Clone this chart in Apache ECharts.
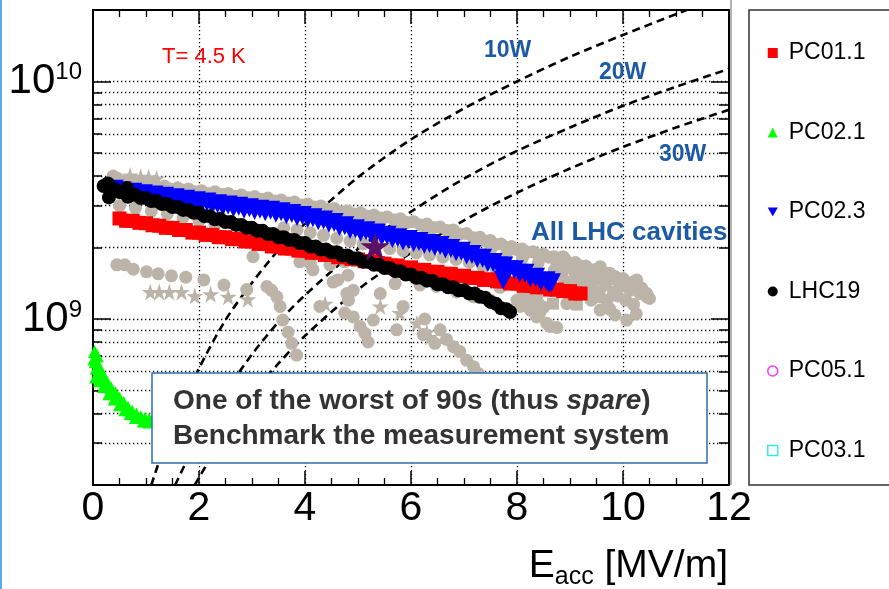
<!DOCTYPE html>
<html>
<head>
<meta charset="utf-8">
<script src="https://cdn.jsdelivr.net/npm/echarts@6/dist/echarts.min.js"></script>
<style>
  html, body { margin: 0; padding: 0; background: #fff; }
  #chart { width: 889px; height: 589px; }
</style>
</head>
<body>
<div id="chart"></div>
<script>
// Q0 versus accelerating gradient, LHC 400 MHz cavities at 4.5 K

const seriesNames = ['PC01.1', 'PC02.1', 'PC02.3', 'LHC19', 'PC05.1', 'PC03.1'];

// [Eacc (MV/m), Q0] -- each cavity was measured in two interleaved runs
const pc011RunA = [[0.5,2.65e9],[0.75,2.59e9],[1.0,2.53e9],[1.25,2.47e9],[1.5,2.42e9],[1.75,2.37e9],[2.0,2.31e9],[2.25,2.26e9],[2.5,2.21e9],[2.75,2.17e9],[3.0,2.12e9],[3.25,2.07e9],[3.5,2.02e9],[3.75,1.98e9],[4.0,1.94e9],[4.25,1.90e9],[4.5,1.86e9],[4.75,1.82e9],[5.0,1.78e9],[5.25,1.75e9],[5.5,1.71e9],[5.75,1.68e9],[6.0,1.65e9],[6.25,1.61e9],[6.5,1.58e9],[6.75,1.55e9],[7.0,1.52e9],[7.25,1.49e9],[7.5,1.47e9],[7.75,1.44e9],[8.0,1.41e9],[8.25,1.38e9],[8.5,1.36e9],[8.75,1.33e9],[9.0,1.31e9],[9.2,1.28e9]];
const pc011RunB = [[0.625,2.59e9],[0.875,2.54e9],[1.125,2.48e9],[1.375,2.42e9],[1.625,2.37e9],[1.875,2.31e9],[2.125,2.26e9],[2.375,2.21e9],[2.625,2.17e9],[2.875,2.12e9],[3.125,2.07e9],[3.375,2.02e9],[3.625,1.98e9],[3.875,1.94e9],[4.125,1.90e9],[4.375,1.86e9],[4.625,1.82e9],[4.875,1.79e9],[5.125,1.75e9],[5.375,1.72e9],[5.625,1.68e9],[5.875,1.64e9],[6.125,1.61e9],[6.375,1.58e9],[6.625,1.55e9],[6.875,1.52e9],[7.125,1.49e9],[7.375,1.46e9],[7.625,1.44e9],[7.875,1.41e9],[8.125,1.38e9],[8.375,1.36e9],[8.625,1.33e9],[8.875,1.31e9],[9.1,1.28e9]];

const pc021 = [[0.03,7.3e8],[0.02,6.8e8],[0.04,6.6e8],[0.08,7.0e8],[0.06,6.2e8],[0.05,5.7e8],[0.1,6.4e8],[0.15,6.05e8],[0.12,5.5e8],[0.2,5.75e8],[0.2,5.2e8],[0.27,5.4e8],[0.3,4.85e8],[0.34,5.15e8],[0.4,4.6e8],[0.42,4.9e8],[0.5,4.65e8],[0.5,4.35e8],[0.58,4.45e8],[0.6,4.15e8],[0.66,4.25e8],[0.7,4.0e8],[0.74,4.1e8],[0.8,3.85e8],[0.82,3.98e8],[0.9,3.88e8],[0.95,3.72e8],[0.98,3.82e8],[1.05,3.68e8],[1.06,3.78e8],[1.12,3.75e8]];

const pc023RunA = [[0.4,3.52e9],[0.55,3.46e9],[0.75,3.42e9],[0.95,3.37e9],[1.15,3.33e9],[1.35,3.29e9],[1.55,3.24e9],[1.75,3.19e9],[1.95,3.15e9],[2.15,3.11e9],[2.35,3.06e9],[2.55,3.02e9],[2.75,2.98e9],[2.95,2.94e9],[3.15,2.90e9],[3.35,2.87e9],[3.55,2.83e9],[3.75,2.78e9],[3.95,2.73e9],[4.15,2.67e9],[4.35,2.61e9],[4.55,2.55e9],[4.75,2.47e9],[4.95,2.40e9],[5.15,2.35e9],[5.35,2.30e9],[5.55,2.25e9],[5.75,2.20e9],[5.95,2.16e9],[6.15,2.12e9],[6.35,2.08e9],[6.55,2.04e9],[6.75,1.98e9],[6.95,1.93e9],[7.15,1.87e9],[7.35,1.80e9],[7.55,1.73e9],[7.74,1.46e9],[7.75,1.67e9],[7.95,1.61e9],[8.15,1.56e9],[8.35,1.50e9],[8.55,1.45e9],[8.65,1.42e9]];
const pc023RunB = [[0.65,3.37e9],[0.85,3.32e9],[1.05,3.28e9],[1.25,3.24e9],[1.45,3.20e9],[1.65,3.15e9],[1.85,3.10e9],[2.05,3.07e9],[2.25,3.02e9],[2.45,2.98e9],[2.65,2.94e9],[2.85,2.90e9],[3.05,2.86e9],[3.25,2.83e9],[3.45,2.79e9],[3.65,2.75e9],[3.85,2.70e9],[4.05,2.65e9],[4.25,2.59e9],[4.45,2.53e9],[4.65,2.45e9],[4.85,2.38e9],[5.05,2.32e9],[5.25,2.28e9],[5.45,2.23e9],[5.65,2.18e9],[5.85,2.13e9],[6.05,2.10e9],[6.25,2.06e9],[6.45,2.02e9],[6.65,1.97e9],[6.85,1.92e9],[7.05,1.86e9],[7.25,1.80e9],[7.45,1.73e9],[7.65,1.67e9],[7.85,1.61e9],[8.05,1.56e9],[8.25,1.49e9],[8.45,1.44e9],[8.6,1.41e9]];

const lhc19RunA = [[0.2,3.63e9],[0.28,3.72e9],[0.3,3.25e9],[0.4,3.53e9],[0.6,3.42e9],[0.64,3.56e9],[0.66,3.27e9],[0.8,3.33e9],[1.0,3.23e9],[1.2,3.14e9],[1.4,3.05e9],[1.6,2.96e9],[1.8,2.88e9],[2.0,2.80e9],[2.2,2.71e9],[2.4,2.64e9],[2.6,2.56e9],[2.8,2.49e9],[3.0,2.42e9],[3.2,2.35e9],[3.4,2.28e9],[3.6,2.21e9],[3.8,2.15e9],[4.0,2.09e9],[4.2,2.02e9],[4.4,1.96e9],[4.6,1.91e9],[4.8,1.85e9],[5.0,1.80e9],[5.2,1.74e9],[5.4,1.69e9],[5.6,1.64e9],[5.8,1.59e9],[6.0,1.54e9],[6.2,1.49e9],[6.4,1.45e9],[6.6,1.40e9],[6.8,1.36e9],[7.0,1.32e9],[7.2,1.28e9],[7.4,1.23e9],[7.6,1.16e9],[7.8,1.10e9],[7.87,1.07e9]];
const lhc19RunB = [[0.5,3.42e9],[0.7,3.32e9],[0.9,3.23e9],[1.1,3.14e9],[1.3,3.05e9],[1.5,2.96e9],[1.7,2.88e9],[1.9,2.80e9],[2.1,2.71e9],[2.3,2.63e9],[2.5,2.56e9],[2.7,2.49e9],[2.9,2.42e9],[3.1,2.35e9],[3.3,2.28e9],[3.5,2.21e9],[3.7,2.15e9],[3.9,2.09e9],[4.1,2.02e9],[4.3,1.96e9],[4.5,1.91e9],[4.7,1.85e9],[4.9,1.80e9],[5.1,1.74e9],[5.3,1.69e9],[5.5,1.64e9],[5.7,1.59e9],[5.9,1.54e9],[6.1,1.49e9],[6.3,1.45e9],[6.5,1.40e9],[6.7,1.36e9],[6.9,1.32e9],[7.1,1.28e9],[7.3,1.24e9],[7.5,1.18e9],[7.7,1.11e9]];

const pc011 = pc011RunA.concat(pc011RunB);
const pc023 = pc023RunA.concat(pc023RunB);
const lhc19 = lhc19RunA.concat(lhc19RunB);
const pc051 = [];
const pc031 = [];

// the cavity singled out as spare / benchmark
const benchmarkPoint = [[5.32, 2.02e9]];

// all other LHC cavities (grey)
const allLhcCircles = [
  [0.38,4.0e9],[0.45,3.92e9],[0.7,3.82e9],[0.9,3.77e9],[1.1,3.72e9],[1.35,3.63e9],[1.6,3.57e9],[1.8,3.53e9],[2.05,3.47e9],[2.3,3.43e9],[2.55,3.38e9],[2.8,3.33e9],[3.05,3.28e9],[3.3,3.23e9],[3.55,3.17e9],[3.8,3.11e9],[4.05,3.05e9],[4.3,2.99e9],[4.55,2.92e9],[4.8,2.85e9],[5.05,2.80e9],[5.3,2.74e9],[5.55,2.69e9],[5.8,2.64e9],[6.05,2.57e9],[6.3,2.51e9],[6.55,2.44e9],[6.8,2.37e9],[7.05,2.29e9],[7.3,2.21e9],[7.5,2.14e9],[7.7,2.07e9],[7.9,2.02e9],[8.1,1.97e9],[8.3,1.92e9],[8.5,1.88e9],[8.7,1.83e9],[8.9,1.79e9],[9.1,1.73e9],[9.3,1.67e9],[9.5,1.62e9],[9.7,1.56e9],[9.85,1.51e9],[10.0,1.47e9],[10.15,1.42e9],[10.3,1.36e9],[10.45,1.28e9],[10.5,1.22e9],
  [0.55,3.79e9],[0.8,3.72e9],[1.0,3.67e9],[1.23,3.60e9],[1.48,3.53e9],[1.7,3.48e9],[1.93,3.43e9],[2.18,3.38e9],[2.43,3.34e9],[2.68,3.29e9],[2.93,3.24e9],[3.18,3.19e9],[3.43,3.14e9],[3.68,3.08e9],[3.93,3.02e9],[4.18,2.96e9],[4.43,2.90e9],[4.68,2.83e9],[4.93,2.77e9],[5.18,2.71e9],[5.43,2.66e9],[5.68,2.61e9],[5.93,2.55e9],[6.18,2.49e9],[6.43,2.43e9],[6.68,2.36e9],[6.93,2.28e9],[7.18,2.20e9],[7.4,2.13e9],[7.6,2.06e9],[7.8,2.0e9],[8.0,1.96e9],[8.2,1.91e9],[8.4,1.86e9],[8.6,1.82e9],[8.8,1.77e9],[9.0,1.72e9],[9.2,1.67e9],[9.4,1.61e9],[9.6,1.56e9],[9.78,1.50e9],[9.93,1.46e9],[10.08,1.42e9],[10.22,1.36e9],[10.38,1.29e9],
  [5.3,2.5e9],[5.8,2.43e9],[6.3,2.33e9],[6.8,2.2e9],[7.2,2.07e9],[7.5,1.95e9],[7.8,1.88e9],[8.1,1.80e9],[8.4,1.72e9],
  [0.5,3.0e9],[0.8,2.93e9],[1.1,2.85e9],[1.4,2.77e9],[1.7,2.68e9],[2.0,2.6e9],[2.3,2.5e9],
  [3.6,2.42e9],[3.85,2.37e9],[4.1,2.31e9],[4.35,2.25e9],[4.6,2.19e9],[4.85,2.13e9],[5.1,2.07e9],[5.35,2.03e9],[5.6,1.98e9],[5.85,1.94e9],[6.1,1.9e9],[6.35,1.86e9],[6.6,1.82e9],[6.85,1.78e9],[7.1,1.73e9],[7.35,1.68e9],[7.6,1.63e9],
  [0.45,1.69e9],[0.6,1.69e9],[0.76,1.62e9],[1.01,1.58e9],[1.23,1.55e9],[1.48,1.52e9],[1.75,1.50e9],[2.09,1.46e9],[2.47,1.39e9],[2.9,1.33e9],
  [3.02,1.83e9],[3.28,1.37e9],[3.37,1.32e9],[3.47,1.24e9],[3.53,1.13e9],[3.58,0.99e9],[3.68,8.8e8],[3.75,7.9e8],[3.84,7.05e8],
  [3.9,1.74e9],[4.1,1.72e9],[4.15,1.61e9],[4.47,1.69e9],[4.75,1.74e9],[4.62,1.46e9],[4.81,1.53e9],[4.53,1.43e9],[4.79,1.28e9],
  [4.28,1.13e9],[4.75,1.06e9],[4.82,1.2e9],[4.91,1.32e9],[4.91,1.02e9],[5.04,9.3e8],[5.13,8.7e8],[5.19,8.0e8],[5.29,9.9e8],[5.42,1.28e9],
  [5.7,1.41e9],[5.73,9.0e8],[5.85,1.13e9],[6.23,8.6e8],[6.26,1.0e9],
  [6.45,7.9e8],[6.55,9.0e8],[6.67,8.2e8],[6.8,7.65e8],[6.92,7.3e8],[7.05,6.7e8],[7.18,6.3e8],[7.27,5.9e8],
  [6.17,1.39e9],[6.48,1.37e9],[6.86,1.30e9],[7.18,1.24e9],[7.5,1.2e9],[7.68,1.36e9],
  [8.75,1.72e9],[8.87,1.83e9],[9.13,1.66e9],[9.32,1.61e9],[9.57,1.66e9],[9.75,1.56e9],[9.88,1.46e9],[10.0,1.48e9],[10.19,1.43e9],[10.13,1.32e9],[10.32,1.28e9],[9.82,1.30e9],[9.85,1.04e9],[10.07,9.9e8],[9.5,1.24e9],[9.38,1.37e9],
  [8.12,1.28e9],[8.37,1.24e9],[8.94,1.16e9],[8.25,1.09e9],[8.37,1.02e9],[8.56,9.6e8],[8.62,9.3e8],[8.06,1.13e9],[8.0,1.2e9],[7.36,1.66e9],[7.68,1.64e9],
  [9.57,1.09e9],[10.45,1.24e9],[10.26,1.46e9],[8.43,1.06e9],[8.75,9.2e8],[9.0,1.39e9],[9.19,1.46e9],[9.47,1.46e9],[9.66,1.39e9],[8.81,1.53e9],[8.62,1.32e9],[9.09,1.26e9],[9.3,1.5e9],[9.6,1.5e9],[9.95,1.38e9],[9.7,1.2e9],[9.4,1.2e9],[8.9,1.45e9],[8.7,1.6e9],
  [8.9,1.62e9],[9.1,1.55e9],[9.25,1.4e9],[9.45,1.55e9],[9.55,1.3e9],[9.7,1.45e9],[9.9,1.25e9],[10.05,1.2e9],[10.2,1.15e9],[10.35,1.35e9],[9.15,1.35e9],[9.35,1.3e9],[8.95,1.32e9],[9.75,1.1e9],[10.25,1.05e9],[8.3,1.16e9],[8.5,1.12e9],[8.2,1.22e9]
];
const allLhcStars = [[0.7,4.02e9],[0.9,3.97e9],[1.05,3.95e9],[1.2,3.9e9],[1.08,1.30e9],[1.25,1.30e9],[1.44,1.30e9],[1.67,1.30e9],[1.92,1.25e9],[2.22,1.27e9],[2.55,1.24e9],[2.92,1.21e9],[4.38,1.16e9],[5.42,1.13e9],[5.79,1.06e9],[6.11,9.6e8],[6.3,8.8e8],[6.36,8.4e8]];
const allLhcCrosses = [[9.62,1.18e9],[9.05,1.22e9]];
const allLhcSquares = [[8.68,1.16e9],[9.13,1.15e9],[8.4,1.14e9]];

// constant dissipated power lines
const curve10W = [[1.1,2.0e8],[1.5,3.6e8],[2.0,6.2e8],[2.5,9.9e8],[3.0,1.42e9],[3.5,1.95e9],[4.0,2.52e9],[5.0,3.95e9],[6.0,5.7e9],[7.0,7.7e9],[8.0,1.0e10],[9.0,1.27e10],[10.0,1.57e10],[11.2,2.0e10]];
const curve20W = [[1.55,2.0e8],[2.0,3.2e8],[2.5,4.9e8],[3.0,7.1e8],[3.5,9.7e8],[4.0,1.26e9],[5.0,1.97e9],[6.0,2.83e9],[7.0,3.9e9],[8.0,5.1e9],[9.0,6.4e9],[10.0,7.9e9],[11.0,9.5e9],[12.0,1.13e10]];
const curve30W = [[1.92,2.0e8],[2.5,3.3e8],[3.0,4.8e8],[3.5,6.5e8],[4.0,8.5e8],[5.0,1.33e9],[6.0,1.9e9],[7.0,2.6e9],[8.0,3.4e9],[9.0,4.3e9],[10.0,5.3e9],[11.0,6.4e9],[12.0,7.6e9]];

// axis ticks
const xTickLabels = [0, 2, 4, 6, 8, 10, 12];
const qMajorTicks = [1e9, 1e10];
const qMinorTicks = [3e8, 4e8, 5e8, 6e8, 7e8, 8e8, 9e8, 2e9, 3e9, 4e9, 5e9, 6e9, 7e9, 8e9, 9e9];
const qGridLines = qMinorTicks.concat(qMajorTicks);

const FONT = '"Liberation Sans", Arial, Helvetica, sans-serif';
const Q_MIN = 2e8, Q_MAX = 2e10;
const lg = Math.log10;
const GREY = '#bdb4a9';
const STAR = 'path://M50 0L61.23 34.55L97.55 34.55L68.16 55.9L79.39 90.45L50 69.1L20.61 90.45L31.84 55.9L2.45 34.55L38.77 34.55Z';
const CROSS = 'path://M4 0h2v4h4v2h-4v4h-2v-4h-4v-2h4z';
const DOWN_TRI = 'path://M0 0L10 0L5 9Z';

function powerLabel(v) {
  const e = Math.round(v);
  return '{b|10}{s|' + e + '}';
}

function tickAxis(position, values, len, withLabels) {
  return {
    type: 'value', position: position, min: lg(Q_MIN), max: lg(Q_MAX),
    axisLine: { show: false, onZero: false },
    axisTick: { show: true, inside: true, length: len, customValues: values.map(lg),
                lineStyle: { color: '#000', width: 1.5 } },
    axisLabel: withLabels ? {
      show: true, customValues: values.map(lg), margin: 11, formatter: powerLabel,
      rich: {
        b: { fontSize: 42, fontFamily: FONT, color: '#000' },
        s: { fontSize: 24, fontFamily: FONT, color: '#000', verticalAlign: 'top', padding: [0, 0, 14, 0] }
      }
    } : { show: false },
    splitLine: { show: false }
  };
}

function frameYAxis(position) {
  return {
    type: 'log', logBase: 10, position: position, min: Q_MIN, max: Q_MAX,
    axisLine: { show: true, onZero: false, lineStyle: { color: '#000', width: 2 } },
    axisTick: { show: false }, axisLabel: { show: false }, splitLine: { show: false }
  };
}

function xAxisDef(position, labels) {
  return {
    type: 'value', position: position, min: xTickLabels[0], max: xTickLabels[xTickLabels.length - 1], interval: 2,
    axisLine: { show: true, onZero: false, lineStyle: { color: '#000', width: 2 } },
    axisTick: { show: true, inside: true, length: 14, lineStyle: { color: '#000', width: 1.5 } },
    minorTick: { show: true, splitNumber: 4, length: 7, lineStyle: { color: '#000', width: 1.3 } },
    axisLabel: labels ? { show: true, fontSize: 41, fontFamily: FONT, color: '#000', margin: 3 } : { show: false },
    splitLine: labels ? { show: true, showMinLine: false, showMaxLine: false,
                          lineStyle: { color: '#000', width: 1.3, type: [1.3, 2.7] } } : { show: false }
  };
}

function scatter(name, data, symbol, size, color, extra) {
  return Object.assign({
    name: name, type: 'scatter', data: data, symbol: symbol, symbolSize: size,
    itemStyle: { color: color, opacity: 1 }, xAxisIndex: 0, yAxisIndex: 0,
    silent: true, z: 2
  }, extra || {});
}

function powerCurve(name, data) {
  return {
    name: name, type: 'line', data: data, showSymbol: false, symbol: 'none', smooth: 0.3,
    xAxisIndex: 0, yAxisIndex: 0, silent: true, z: 2,
    lineStyle: { color: '#000', width: 2.6, type: [8, 5] }
  };
}

function label(text, x, y, size, color, bold) {
  return {
    type: 'text', z: 50, silent: true,
    style: { text: text, x: x, y: y, fill: color, fontSize: size, fontFamily: FONT,
             fontWeight: bold ? 'bold' : 'normal', align: 'left', verticalAlign: 'middle' }
  };
}

const option = {
  animation: false,
  backgroundColor: '#fff',
  grid: { left: 93, top: 10, width: 636, height: 475, containLabel: false, outerBoundsMode: 'none' },
  xAxis: [xAxisDef('bottom', true), xAxisDef('top', false)],
  yAxis: [
    frameYAxis('left'),
    tickAxis('left', qMajorTicks, 18, true),
    tickAxis('left', qMinorTicks, 9, false),
    frameYAxis('right'),
    tickAxis('right', qMajorTicks, 18, false),
    tickAxis('right', qMinorTicks, 10, false)
  ],
  legend: {
    orient: 'vertical', left: 762, top: 36, itemWidth: 10, itemHeight: 10, itemGap: 55.5,
    selectedMode: false,
    textStyle: { fontSize: 23, fontFamily: FONT, color: '#000', lineHeight: 24, padding: [0, 0, 0, 6] },
    data: [
      { name: seriesNames[0], icon: 'rect' },
      { name: seriesNames[1], icon: 'triangle' },
      { name: seriesNames[2], icon: DOWN_TRI },
      { name: seriesNames[3], icon: 'circle' },
      { name: seriesNames[4], icon: 'circle', itemStyle: { color: 'rgba(0,0,0,0)', borderColor: '#ff00ff', borderWidth: 1.5 } },
      { name: seriesNames[5], icon: 'rect', itemStyle: { color: 'rgba(0,0,0,0)', borderColor: '#00e5ee', borderWidth: 1.5 } }
    ]
  },
  series: [
    Object.assign(scatter('grid', [], 'none', 0, '#000'), {
      markLine: {
        silent: true, symbol: 'none', z: 1,
        label: { show: false },
        lineStyle: { color: '#000', width: 1.3, type: [1.3, 2.7] },
        data: qGridLines.map(function (q) { return { yAxis: q }; })
      }
    }),
    scatter('All LHC', allLhcCircles, 'circle', 13, GREY),
    scatter('All LHC stars', allLhcStars, STAR, 17, GREY),
    scatter('All LHC crosses', allLhcCrosses, CROSS, 12, GREY),
    scatter('All LHC squares', allLhcSquares, 'rect', 12, GREY),
    powerCurve('10W', curve10W),
    powerCurve('20W', curve20W),
    powerCurve('30W', curve30W),
    scatter(seriesNames[0], pc011, 'rect', 14, '#ff0000'),
    scatter(seriesNames[1], pc021, 'triangle', 13, '#00ff00'),
    scatter(seriesNames[2], pc023, 'triangle', 19, '#0000ff', { symbolRotate: 180 }),
    scatter(seriesNames[3], lhc19, 'circle', 14, '#000000'),
    scatter(seriesNames[4], pc051, 'circle', 10, 'rgba(0,0,0,0)', { itemStyle: { color: 'rgba(0,0,0,0)', borderColor: '#ff00ff', borderWidth: 1.5 } }),
    scatter(seriesNames[5], pc031, 'rect', 10, 'rgba(0,0,0,0)', { itemStyle: { color: 'rgba(0,0,0,0)', borderColor: '#00e5ee', borderWidth: 1.5 } }),
    scatter('benchmark', benchmarkPoint, STAR, [29, 28], '#5c1068', { z: 3 })
  ],
  graphic: [
    { type: 'rect', silent: true, z: 0, shape: { x: 0, y: 0, width: 2, height: 589 }, style: { fill: '#5aaef0' } },
    { type: 'line', silent: true, z: 0, shape: { x1: 731, y1: 0, x2: 731, y2: 485 }, style: { stroke: '#9a9a9a', lineWidth: 1.5 } },
    { type: 'rect', silent: true, z: 0, shape: { x: 749, y: 10, width: 160, height: 475 }, style: { fill: 'none', stroke: '#333', lineWidth: 1.5 } },
    label('T= 4.5 K', 162, 57, 22, '#ff0000', false),
    label('10W', 484, 51, 23, '#1c5aa6', true),
    label('20W', 599, 73, 23, '#1c5aa6', true),
    label('30W', 659, 155, 23, '#1c5aa6', true),
    label('All LHC cavities', 531, 233, 26, '#1c5aa6', true),
    {
      type: 'group', z: 100,
      children: [
        { type: 'rect', z: 100, silent: true, shape: { x: 152, y: 373, width: 555, height: 90 },
          style: { fill: '#fff', stroke: '#2e6cb0', lineWidth: 1.5 } },
        { type: 'text', z: 101, silent: true,
          style: { x: 173, y: 401, verticalAlign: 'middle', align: 'left',
                   text: '{n|One of the worst of 90s (thus }{i|spare}{n|)}',
                   rich: {
                     n: { fontSize: 28, fontWeight: 'bold', fontFamily: FONT, fill: '#333' },
                     i: { fontSize: 28, fontWeight: 'bold', fontStyle: 'italic', fontFamily: FONT, fill: '#333' }
                   } } },
        { type: 'text', z: 101, silent: true,
          style: { x: 173, y: 436, verticalAlign: 'middle', align: 'left',
                   text: 'Benchmark the measurement system',
                   fontSize: 28, fontWeight: 'bold', fontFamily: FONT, fill: '#333' } }
      ]
    },
    {
      type: 'text', z: 50, silent: true,
      style: { x: 728, y: 566, align: 'right', verticalAlign: 'middle',
               text: '{e|E}{s|acc}{e| [MV/m]}',
               rich: {
                 e: { fontSize: 39, fontFamily: FONT, fill: '#000' },
                 s: { fontSize: 25, fontFamily: FONT, fill: '#000', verticalAlign: 'bottom', padding: [22, 0, 0, 0] }
               } }
    }
  ]
};

const chart = echarts.init(document.getElementById('chart'), null, { renderer: 'canvas' });
chart.setOption(option);
</script>
</body>
</html>
